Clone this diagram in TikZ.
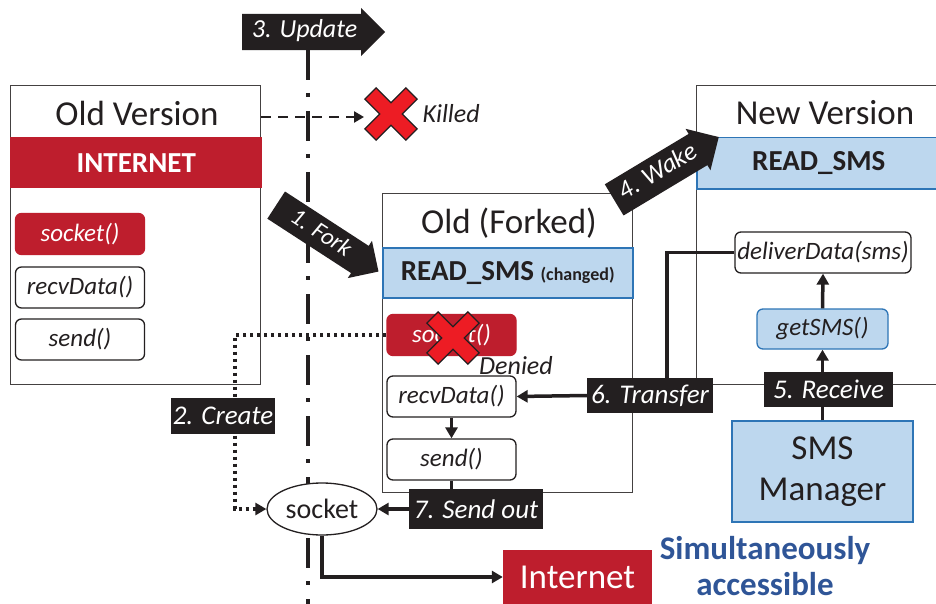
\documentclass[tikz,border=0pt]{standalone}
\usepackage{fontspec}
\setmainfont{Carlito}
\usetikzlibrary{arrows.meta,shapes.arrows,shapes.geometric}
\definecolor{permred}{HTML}{BE1E2D}
\definecolor{permblue}{HTML}{BDD7EE}
\definecolor{permedge}{HTML}{2E75B6}
\definecolor{crossred}{HTML}{ED1C24}
\definecolor{inkblack}{HTML}{231F20}
\definecolor{notice}{HTML}{2F5597}
\newcommand{\fsz}[1]{\fontsize{#1}{#1}\selectfont}
\tikzset{
  pane/.style={draw=inkblack!85, line width=1.2pt, fill=white},
  heading/.style={font=\fsz{35}, text=inkblack},
  note/.style={font=\itshape\fsz{26}, text=inkblack},
  redband/.style={fill=permred, text=white, font=\bfseries\fsz{29}},
  blueband/.style={fill=permblue, draw=permedge, line width=1.5pt, text=inkblack, font=\bfseries\fsz{29}},
  func/.style={draw=inkblack, line width=1.3pt, rounded corners=6pt, fill=white, text=inkblack,
    font=\itshape\fsz{25}, minimum width=129, minimum height=41, inner sep=0pt},
  redfunc/.style={func, fill=permred, draw=permred, text=white},
  bluefunc/.style={func, fill=permblue, draw=permedge},
  tag/.style={fill=inkblack, text=white, font=\itshape\fsz{27}, inner sep=0pt},
  bigarrow/.style={single arrow, fill=inkblack, text=white, font=\itshape\fsz{26},
    single arrow head extend=6pt, inner ysep=6pt, inner xsep=4pt, text height=18pt, text depth=6pt},
  wire/.style={draw=inkblack, line width=3.5pt},
  link/.style={wire, -{Triangle[length=11pt,width=12pt]}},
  timeline/.style={draw=inkblack, line width=3.5pt, dash pattern=on 30pt off 13pt on 4pt off 14pt},
  killline/.style={draw=inkblack, line width=2.5pt, dash pattern=on 10pt off 7pt, -{Triangle[length=10pt,width=11pt]}},
  dotline/.style={draw=inkblack, line width=3.5pt, dash pattern=on 3.5pt off 3.5pt, -{Triangle[length=11pt,width=12pt]}},
  killmark/.pic={
    \draw[fill=crossred, draw=inkblack, line width=1.3pt, rotate=45]
      (-8,29) -- (8,29) -- (8,8) -- (29,8) -- (29,-8) -- (8,-8) -- (8,-29) -- (-8,-29)
      -- (-8,-8) -- (-29,-8) -- (-29,8) -- (-8,8) -- cycle;
  }
}
\begin{document}
\begin{tikzpicture}[x=1pt,y=-1pt]
  \useasboundingbox (0,0) rectangle (936,604);
  % old version
  \node[pane, anchor=north west, minimum width=250, minimum height=299] (oldver) at (10,85) {};
  \node[heading] (oldtitle) at (137,113) {Old Version};
  \node[redband, anchor=north west, minimum width=252, minimum height=51] (oldperm) at (10,137) {INTERNET};
  \node[redfunc] (osock) at (80,234) {socket()};
  \node[func] (orecv) at (80,287.5) {recvData()};
  \node[func] (osend) at (80,339.5) {send()};
  % forked copy
  \node[pane, anchor=north west, minimum width=250, minimum height=299] (forkbox) at (382,193) {};
  \node[heading] (forktitle) at (509,223) {Old (Forked)};
  \node[blueband, anchor=north west, minimum width=250, minimum height=50] (forkperm) at (382,247) {READ\_SMS {\fsz{18}(changed)}};
  \node[redfunc] (fsock) at (451.5,335) {socket()};
  \node[func] (frecv) at (451.5,396.5) {recvData()};
  \node[func] (fsend) at (451.5,459.5) {send()};
  % new version
  \node[pane, anchor=north west, minimum width=244, minimum height=299] (newver) at (696,85) {};
  \node[heading] (newtitle) at (825,113) {New Version};
  \node[blueband, anchor=north west, minimum width=244, minimum height=51] (newperm) at (696,137) {READ\_SMS};
  \node[func, minimum width=176] (deliver) at (823,252.5) {deliverData(sms)};
  \node[bluefunc, minimum width=131, minimum height=40] (getsms) at (822.5,329) {getSMS()};
  % time line
  \coordinate (ttop) at (308,50);
  \coordinate (tbot) at (308,604);
  \draw[timeline] (ttop) -- (tbot);
  \node[ellipse, draw=inkblack, line width=1.3pt, fill=white, minimum width=110, minimum height=52,
    inner sep=0pt, font=\fsz{28}, text=inkblack] (sock) at (322,509) {socket};
  \node[fill=permred, text=white, font=\fsz{35}, minimum width=149, minimum height=54] (inet) at (577.5,577) {Internet};
  \node[blueband, minimum width=181, minimum height=101, align=center,
    font=\fontsize{35}{41}\selectfont] (smsmgr) at (822.5,471.5) {SMS\\Manager};
  % create
  \coordinate (dotbend) at (235,335);
  \draw[dotline] (fsock.west) -- (dotbend) |- (sock.west);
  \node[tag, minimum width=104, minimum height=36] (create) at (223,416) {2. Create};
  \node[tag, minimum width=126, minimum height=35] (transfer) at (650,395.5) {6. Transfer};
  \node[tag, minimum width=129, minimum height=35] (receive) at (828.5,389.5) {5. Receive};
  \node[tag, minimum width=134, minimum height=40] (sendout) at (476,509) {7. Send out};
  % data flow
  \draw[wire] (smsmgr.north) -- (smsmgr.north |- receive.south);
  \draw[link] (receive.north -| getsms.south) -- (getsms.south);
  \draw[link] (getsms.north) -- (deliver.south);
  \coordinate (tdrop) at (667,395);
  \draw[wire] (deliver.west) -| (transfer.north -| tdrop);
  \draw[link] (transfer.west) -- (frecv.east);
  \draw[link] (frecv.south) -- (fsend.north);
  \draw[wire] (fsend.south) -- (fsend.south |- sendout.north);
  \draw[link] (sendout.west) -- (sock.east);
  \draw[link] (sock.south) |- (inet.west);
  % steps
  \node[bigarrow, anchor=tail, minimum height=143] (update) at (242,32) {3. Update};
  \node[bigarrow, anchor=tail, minimum height=122, rotate=-33, font=\itshape\fsz{24},
    text height=17pt, text depth=5pt, inner ysep=5pt] (fork) at (276,205) {1. Fork};
  \node[bigarrow, anchor=tail, minimum height=122, rotate=31] (wake) at (614,200) {4. Wake};
  % kill
  \coordinate (killend) at (364,117);
  \draw[killline] (oldver.east |- killend) -- (killend);
  \pic at (391,114) {killmark};
  \node[note, anchor=west] (killed) at (419,114) {Killed};
  \pic at (453,338) {killmark};
  \node[note] (denied) at (516,366) {Denied};
  \node[font=\bfseries\fontsize{33}{36}\selectfont, text=notice, align=center] (simul) at (765,566) {Simultaneously\\accessible};
\end{tikzpicture}
\end{document}
